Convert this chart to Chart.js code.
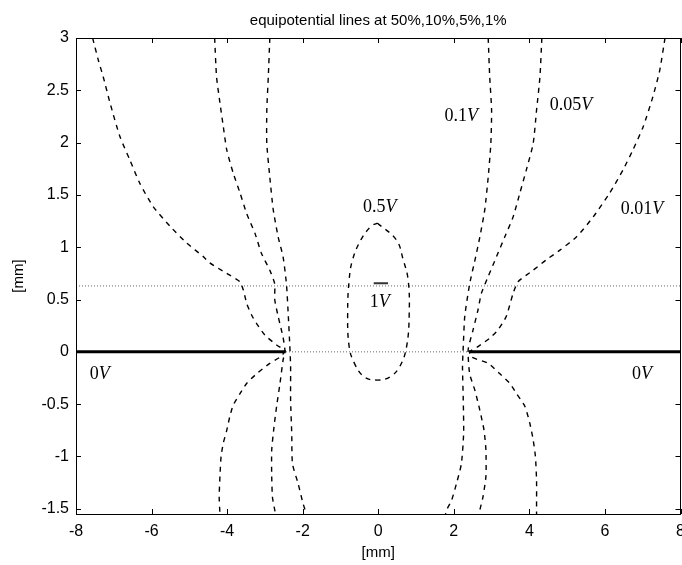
<!DOCTYPE html>
<html>
<head>
<meta charset="utf-8">
<script src="https://cdn.jsdelivr.net/npm/chart.js@4/dist/chart.umd.min.js"></script>
<style>
  html, body { margin: 0; padding: 0; background: #fff; overflow: hidden; }
  canvas { display: block; }
</style>
</head>
<body>
<canvas id="c" width="682" height="565"></canvas>
<script>
// Axis ticks
const X_TICKS = [-8, -6, -4, -2, 0, 2, 4, 6, 8];
const Y_TICKS = [-1.5, -1, -0.5, 0, 0.5, 1, 1.5, 2, 2.5, 3];

// 1% equipotential, left
const V001_LEFT_X = [-7.56, -7.41, -7.28, -7.10, -6.84, -6.57, -6.31, -5.96, -5.51, -5.07, -4.63, -4.46, -4.01, -3.66, -3.57, -3.48, -3.35, -3.22, -3.00, -2.69, -2.47, -2.60, -2.87, -3.22, -3.48, -3.66, -3.84, -3.93, -4.01, -4.10, -4.16, -4.19, -4.21, -4.19];
const V001_LEFT_Y = [3.00, 2.79, 2.63, 2.38, 2.06, 1.83, 1.61, 1.39, 1.20, 1.04, 0.91, 0.85, 0.75, 0.67, 0.59, 0.46, 0.35, 0.27, 0.16, 0.065, 0.01, -0.05, -0.11, -0.21, -0.30, -0.40, -0.51, -0.62, -0.75, -0.87, -1.00, -1.19, -1.39, -1.55];

// 5% equipotential, left
const V005_LEFT_X = [-4.33, -4.28, -4.19, -4.10, -4.01, -3.84, -3.66, -3.48, -3.26, -3.09, -2.87, -2.74, -2.74, -2.65, -2.52, -2.47, -2.52, -2.60, -2.69, -2.76, -2.82, -2.82, -2.80, -2.74, -2.72];
const V005_LEFT_Y = [3.00, 2.63, 2.38, 2.15, 1.93, 1.71, 1.52, 1.32, 1.13, 0.94, 0.78, 0.65, 0.50, 0.34, 0.14, 0.01, -0.08, -0.30, -0.52, -0.72, -0.94, -1.19, -1.39, -1.51, -1.55];

// 10% equipotential, left
const V01_LEFT_X = [-2.87, -2.91, -2.95, -2.95, -2.87, -2.78, -2.65, -2.52, -2.43, -2.38, -2.34, -2.32, -2.32, -2.29, -2.27, -2.12, -1.99, -1.90];
const V01_LEFT_Y = [3.00, 2.63, 2.31, 1.99, 1.67, 1.36, 1.10, 0.91, 0.65, 0.34, 0.05, -0.14, -0.46, -0.78, -1.07, -1.26, -1.45, -1.55];

// 10% equipotential, right
const V01_RIGHT_X = [2.91, 2.95, 3.00, 2.98, 2.91, 2.82, 2.69, 2.58, 2.42, 2.29, 2.25, 2.23, 2.25, 2.26, 2.20, 2.07, 1.94, 1.81, 1.78];
const V01_RIGHT_Y = [3.00, 2.63, 2.31, 1.99, 1.67, 1.36, 1.10, 0.91, 0.65, 0.34, 0.05, -0.14, -0.46, -0.78, -1.07, -1.26, -1.42, -1.51, -1.55];

// 5% equipotential, right
const V005_RIGHT_X = [4.33, 4.28, 4.19, 4.10, 3.92, 3.75, 3.57, 3.35, 3.13, 2.91, 2.73, 2.64, 2.51, 2.38, 2.42, 2.56, 2.69, 2.80, 2.85, 2.85, 2.77, 2.69, 2.67];
const V005_RIGHT_Y = [3.00, 2.63, 2.31, 1.99, 1.74, 1.52, 1.29, 1.10, 0.91, 0.72, 0.56, 0.40, 0.21, 0.02, -0.21, -0.37, -0.56, -0.75, -0.94, -1.19, -1.39, -1.51, -1.55];

// 1% equipotential, right
const V001_RIGHT_X = [7.59, 7.45, 7.27, 7.01, 6.74, 6.48, 6.13, 5.69, 5.25, 4.80, 4.45, 4.10, 3.70, 3.57, 3.39, 3.17, 2.95, 2.64, 2.42, 2.47, 2.91, 3.22, 3.48, 3.66, 3.88, 4.01, 4.10, 4.16, 4.19, 4.19, 4.19];
const V001_RIGHT_Y = [3.00, 2.69, 2.44, 2.15, 1.93, 1.74, 1.52, 1.29, 1.10, 0.97, 0.88, 0.78, 0.67, 0.56, 0.34, 0.21, 0.13, 0.05, 0.00, -0.05, -0.11, -0.21, -0.30, -0.40, -0.52, -0.68, -0.84, -1.00, -1.23, -1.48, -1.55];

// 50% equipotential, closed loop around the 1V electrode
const V05_X = [-0.02, 0.48, 0.66, 0.79, 0.82, 0.75, 0.57, 0.31, -0.02, -0.37, -0.63, -0.77, -0.81, -0.77, -0.68, -0.46, -0.19, -0.02];
const V05_Y = [1.23, 1.07, 0.88, 0.69, 0.37, 0.05, -0.14, -0.24, -0.27, -0.24, -0.11, 0.05, 0.37, 0.69, 0.88, 1.07, 1.20, 1.23];

// Grounded electrodes (0V) along y = 0
const ELECTRODE_LEFT_X = [-8, -2.45];
const ELECTRODE_RIGHT_X = [2.40, 8];
const ELECTRODE_Y = [0, 0];

// 1V electrode
const ELECTRODE_1V_X = [-0.12, 0.26];
const ELECTRODE_1V_Y = [0.655, 0.655];

// Reference levels drawn as dotted guides
const GUIDE_LEVELS = [0, 0.63];
const GUIDE_X = [-8, 8];

// Curve annotations: value part and unit
const LABEL_VALUE = ['0.5', '1', '0.1', '0.05', '0.01', '0', '0'];
const LABEL_UNIT = ['V', 'V', 'V', 'V', 'V', 'V', 'V'];
const LABEL_X = [0.04, 0.04, 2.20, 5.10, 6.98, -7.37, 6.98];
const LABEL_Y = [1.38, 0.47, 2.25, 2.36, 1.36, -0.21, -0.21];

const TITLE = 'equipotential lines at 50%,10%,5%,1%';

const pts = (xs, ys) => xs.map((x, i) => ({ x, y: ys[i] }));

const dashed = (xs, ys, tension) => ({
  data: pts(xs, ys),
  showLine: true,
  borderColor: '#000',
  borderWidth: 1.4,
  borderDash: [5, 5],
  pointRadius: 0,
  tension: tension,
  fill: false
});

const datasets = [
  dashed(V001_LEFT_X, V001_LEFT_Y, 0.2),
  dashed(V005_LEFT_X, V005_LEFT_Y, 0.2),
  dashed(V01_LEFT_X, V01_LEFT_Y, 0.2),
  dashed(V01_RIGHT_X, V01_RIGHT_Y, 0.2),
  dashed(V005_RIGHT_X, V005_RIGHT_Y, 0.2),
  dashed(V001_RIGHT_X, V001_RIGHT_Y, 0.2),
  dashed(V05_X, V05_Y, 0.4),
  { data: pts(ELECTRODE_LEFT_X, ELECTRODE_Y), showLine: true, borderColor: '#000', borderWidth: 3, pointRadius: 0 },
  { data: pts(ELECTRODE_RIGHT_X, ELECTRODE_Y), showLine: true, borderColor: '#000', borderWidth: 3, pointRadius: 0 },
  { data: pts(ELECTRODE_1V_X, ELECTRODE_1V_Y), showLine: true, borderColor: '#333', borderWidth: 2, pointRadius: 0 }
];
GUIDE_LEVELS.forEach(level => {
  datasets.push({
    data: pts(GUIDE_X, GUIDE_X.map(() => level)),
    showLine: true,
    borderColor: '#666',
    borderWidth: 1,
    borderDash: [1, 2],
    pointRadius: 0
  });
});

const SANS = "'Liberation Sans', Arial, sans-serif";
const SERIF = "'Liberation Serif', 'Times New Roman', serif";

// Frame, inward ticks, title and curve labels
const framePlugin = {
  id: 'frame',
  afterDraw(chart) {
    const { ctx, chartArea: a, scales } = chart;
    const xs = scales.x, ys = scales.y;
    const T = 5;
    ctx.save();
    ctx.strokeStyle = '#000';
    ctx.lineWidth = 1;
    ctx.setLineDash([]);
    ctx.strokeRect(Math.round(a.left) + 0.5, Math.round(a.top) + 0.5,
      Math.round(a.right - a.left) - 1, Math.round(a.bottom - a.top));
    ctx.beginPath();
    X_TICKS.forEach(v => {
      const px = Math.round(xs.getPixelForValue(v)) + 0.5;
      ctx.moveTo(px, a.bottom); ctx.lineTo(px, a.bottom - T);
      ctx.moveTo(px, a.top); ctx.lineTo(px, a.top + T);
    });
    Y_TICKS.forEach(v => {
      const py = Math.round(ys.getPixelForValue(v)) + 0.5;
      ctx.moveTo(a.left, py); ctx.lineTo(a.left + T, py);
      ctx.moveTo(a.right, py); ctx.lineTo(a.right - T, py);
    });
    ctx.stroke();

    ctx.fillStyle = '#000';
    ctx.font = '15px ' + SANS;
    ctx.textAlign = 'center';
    ctx.textBaseline = 'middle';
    ctx.fillText(TITLE, (a.left + a.right) / 2, 21);

    ctx.textBaseline = 'middle';
    ctx.textAlign = 'left';
    LABEL_VALUE.forEach((val, i) => {
      const cx = xs.getPixelForValue(LABEL_X[i]);
      const cy = ys.getPixelForValue(LABEL_Y[i]);
      const fUp = '18px ' + SERIF, fIt = 'italic 18px ' + SERIF;
      ctx.font = fUp; const w1 = ctx.measureText(val).width;
      ctx.font = fIt; const w2 = ctx.measureText(LABEL_UNIT[i]).width;
      const x0 = cx - (w1 + w2) / 2;
      ctx.font = fUp; ctx.fillText(val, x0, cy);
      ctx.font = fIt; ctx.fillText(LABEL_UNIT[i], x0 + w1, cy);
    });
    ctx.restore();
  }
};

new Chart(document.getElementById('c'), {
  type: 'scatter',
  data: { datasets },
  options: {
    responsive: false,
    animation: false,
    devicePixelRatio: 1,
    layout: { autoPadding: false, padding: { top: 38, right: 1.5, bottom: 0, left: 0 } },
    plugins: { legend: { display: false }, tooltip: { enabled: false } },
    scales: {
      x: {
        type: 'linear', min: -8, max: 8,
        grid: { display: false, drawTicks: false },
        border: { display: false },
        afterBuildTicks: s => { s.ticks = X_TICKS.map(v => ({ value: v })); },
        afterFit: s => { s.height = 51; s.paddingLeft = 0; s.paddingRight = 0; },
        ticks: { color: '#000', padding: 8, font: { family: SANS, size: 16 }, callback: v => String(v) },
        title: { display: true, text: '[mm]', color: '#000', font: { family: SANS, size: 15 }, padding: { top: 0, bottom: 3 } }
      },
      y: {
        type: 'linear', min: -1.55, max: 3,
        grid: { display: false, drawTicks: false },
        border: { display: false },
        afterBuildTicks: s => { s.ticks = Y_TICKS.map(v => ({ value: v })); },
        afterFit: s => { s.width = 76; s.paddingTop = 0; s.paddingBottom = 0; },
        ticks: { color: '#000', padding: 7, font: { family: SANS, size: 16 }, callback: v => String(v) },
        title: { display: true, text: '[mm]', color: '#000', font: { family: SANS, size: 15 }, padding: { top: 10, bottom: 0 } }
      }
    }
  },
  plugins: [framePlugin]
});
</script>
</body>
</html>
